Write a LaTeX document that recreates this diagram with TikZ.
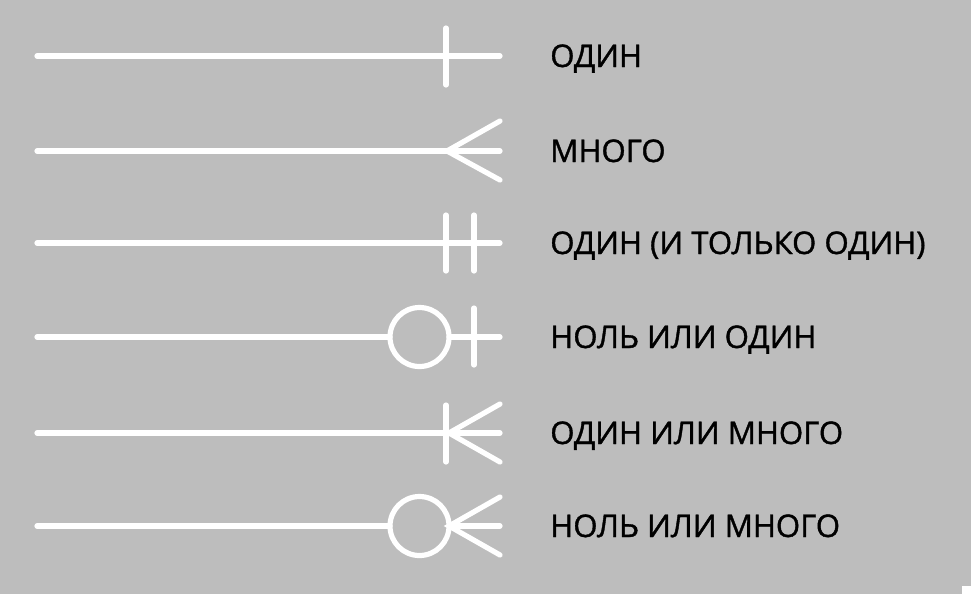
\documentclass[tikz,border=0pt]{standalone}
\usepackage{fontspec}
\setmainfont{Open Sans}
\newfontfamily\lblfont[FakeBold=1.2]{Open Sans}
\definecolor{bggray}{HTML}{BDBDBD}
\begin{document}
\begin{tikzpicture}[x=0.75pt,y=0.75pt,yscale=-1,
  wline/.style={draw=white, line width=3.9pt, line cap=round},
  wring/.style={draw=white, line width=3.9pt},
  lbl/.style={anchor=base west, inner sep=0pt, text=black, font=\lblfont\fontsize{23.4}{27}\selectfont}]

%Background
\fill [bggray] (0,0) rectangle (971,594);
\useasboundingbox (0,0) rectangle (971,594);
\fill [white] (962,586) rectangle (971,594);

%Row 1: one
\coordinate (a1) at (37,56);
\coordinate (b1) at (500,56);
\draw [wline] (a1) -- (b1);
\draw [wline] (446,28) -- (446,85);
\node [lbl] (one) at (550,67) {ОДИН};

%Row 2: many
\coordinate (a2) at (37,151);
\coordinate (b2) at (500,151);
\coordinate (f2) at (447,151);
\draw [wline] (a2) -- (b2);
\draw [wline] (500,121) -- (f2) -- (500,180);
\node [lbl] (many) at (550,162) {МНОГО};

%Row 3: one and only one
\coordinate (a3) at (37,243);
\coordinate (b3) at (500,243);
\draw [wline] (a3) -- (b3);
\draw [wline] (446,215) -- (446,271);
\draw [wline] (474,215) -- (474,271);
\node [lbl] (onlyone) at (550,254) {ОДИН (И ТОЛЬКО ОДИН)};

%Row 4: zero or one
\coordinate (a4) at (37,337);
\coordinate (b4) at (500,337);
\draw [wring] (419.5,337) circle (29.5);
\draw [wline] (a4) -- (390,337);
\draw [wline] (449,337) -- (b4);
\draw [wline] (474,308) -- (474,365);
\node [lbl] (zeroone) at (550,348) {НОЛЬ ИЛИ ОДИН};

%Row 5: one or many
\coordinate (a5) at (37,433);
\coordinate (b5) at (500,433);
\coordinate (f5) at (449,433);
\draw [wline] (a5) -- (b5);
\draw [wline] (446,405) -- (446,462);
\draw [wline] (500,404) -- (f5) -- (500,462);
\node [lbl] (onemany) at (550,444) {ОДИН ИЛИ МНОГО};

%Row 6: zero or many
\coordinate (a6) at (37,526);
\coordinate (b6) at (500,526);
\coordinate (f6) at (449,526);
\draw [wring] (419.5,526) circle (29.5);
\draw [wline] (a6) -- (390,526);
\draw [wline] (449,526) -- (b6);
\draw [wline] (500,497) -- (f6) -- (500,555);
\node [lbl] (zeromany) at (550,537) {НОЛЬ ИЛИ МНОГО};

\end{tikzpicture}
\end{document}
